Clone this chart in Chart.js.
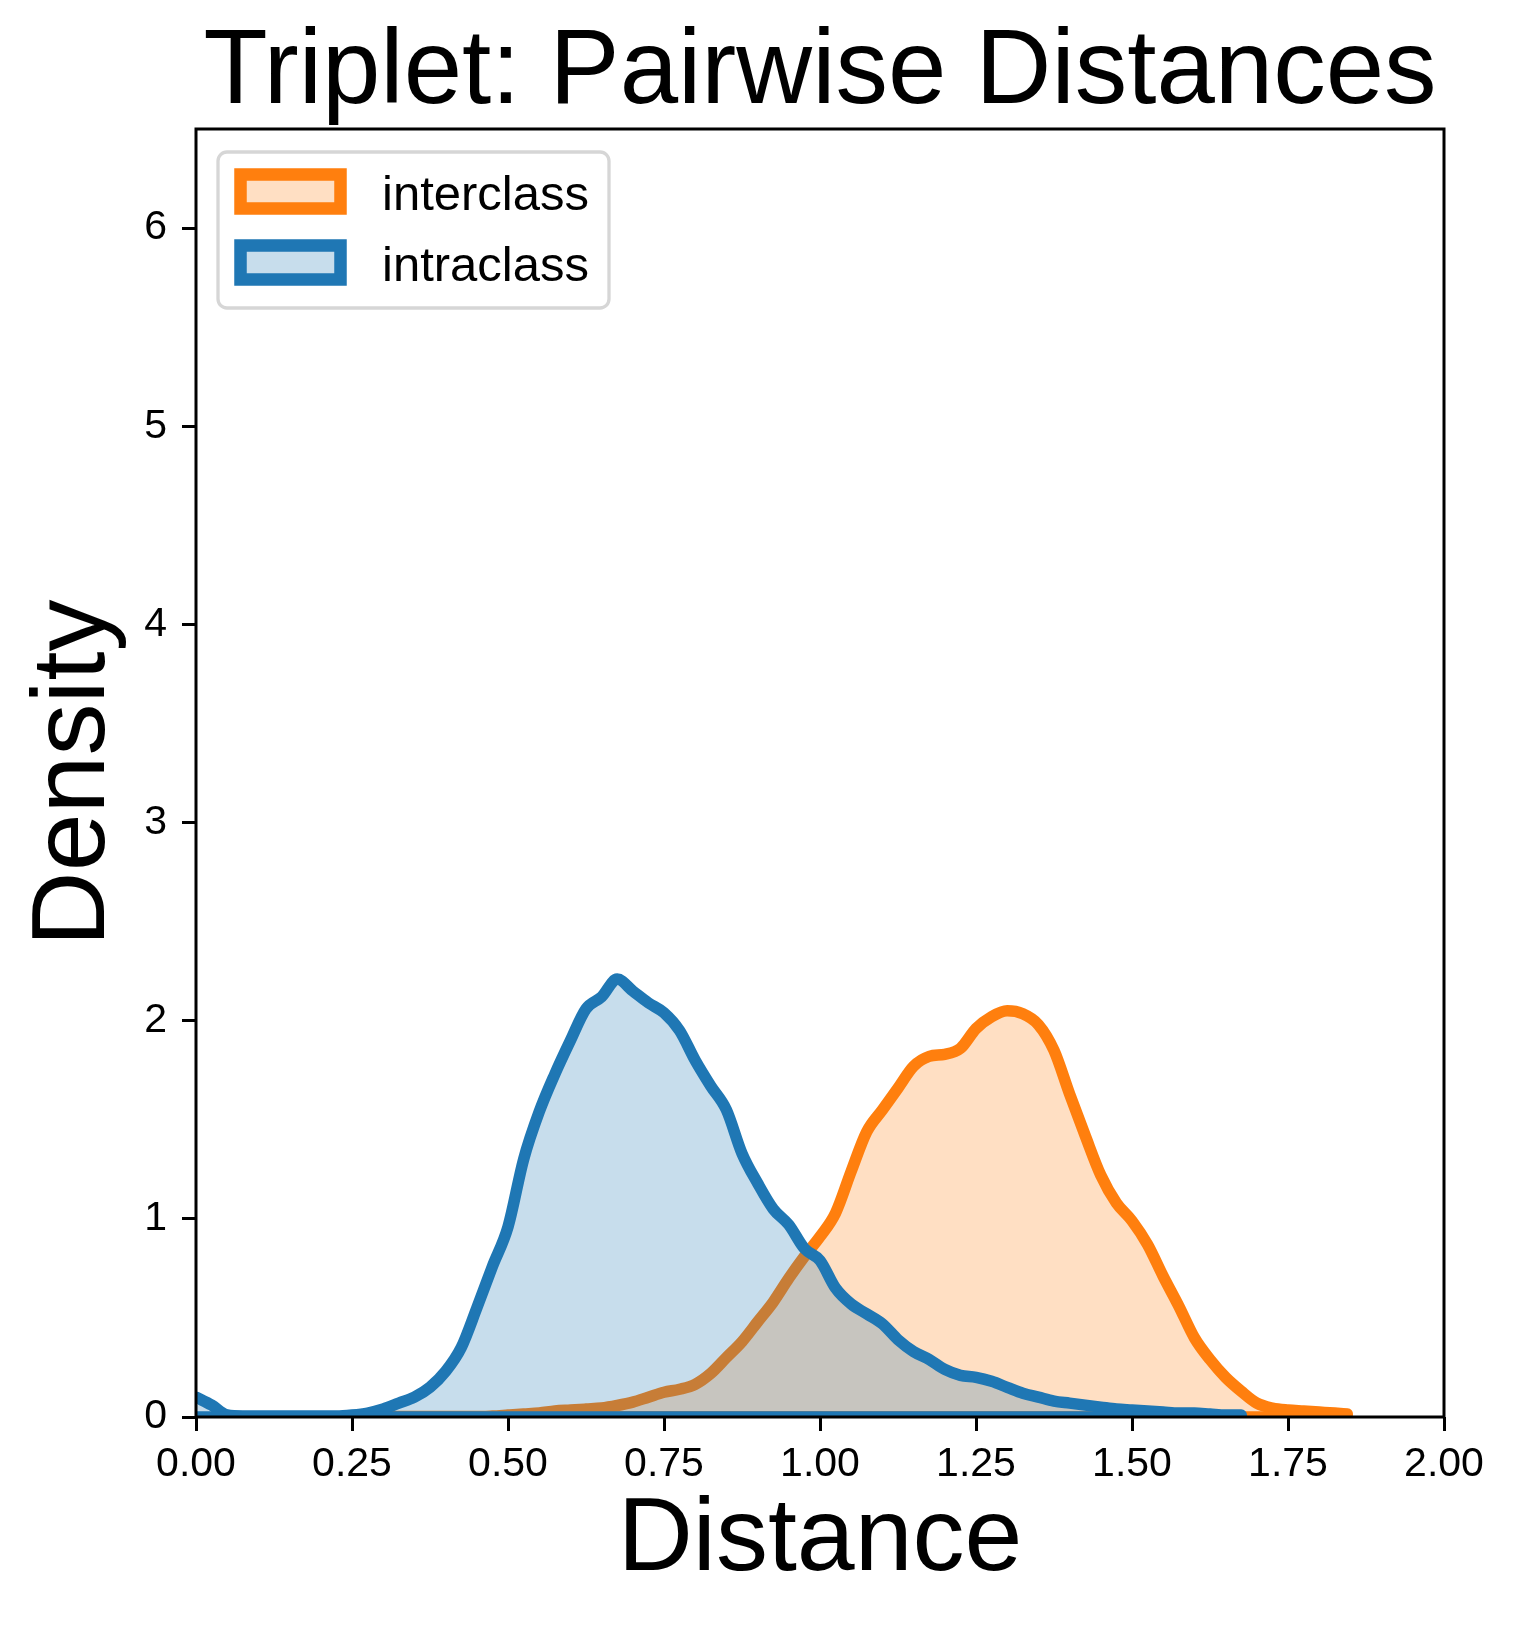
<!DOCTYPE html>
<html>
<head>
<meta charset="utf-8">
<title>Triplet: Pairwise Distances</title>
<script src="https://cdn.jsdelivr.net/npm/chart.js@4.4.1/dist/chart.umd.min.js"></script>
<style>
  html, body { margin: 0; padding: 0; background: #fff; }
  #wrap { width: 1517px; height: 1626px; }
</style>
</head>
<body>
<div id="wrap"><canvas id="myChart" width="1517" height="1626"></canvas></div>
<script>
// distance grid (x) shared by both density curves
const distances = [
  0.000, 0.025, 0.050, 0.075, 0.100, 0.125, 0.150, 0.175, 0.200, 0.225,
  0.250, 0.275, 0.300, 0.325, 0.350, 0.375, 0.400, 0.425, 0.450, 0.475,
  0.500, 0.525, 0.550, 0.575, 0.600, 0.625, 0.650, 0.675, 0.700, 0.725,
  0.750, 0.775, 0.800, 0.825, 0.850, 0.875, 0.900, 0.925, 0.950, 0.975,
  1.000, 1.025, 1.050, 1.075, 1.100, 1.125, 1.150, 1.175, 1.200, 1.225,
  1.250, 1.275, 1.300, 1.325, 1.350, 1.375, 1.400, 1.425, 1.450, 1.475,
  1.500, 1.525, 1.550, 1.575, 1.600, 1.625, 1.650, 1.675, 1.700, 1.725,
  1.750, 1.775, 1.800, 1.825, 1.845
];

// intraclass density (blue), null = no curve there
const intraclass = [
  0.10, 0.06, 0.01, 0.005, 0.005, 0.005, 0.005, 0.005, 0.005, 0.005,
  0.01, 0.02, 0.04, 0.07, 0.10, 0.15, 0.23, 0.35, 0.55, 0.76,
  0.96, 1.30, 1.54, 1.73, 1.90, 2.06, 2.12, 2.21, 2.15, 2.09,
  2.04, 1.95, 1.80, 1.67, 1.55, 1.33, 1.18, 1.05, 0.97, 0.85,
  0.79, 0.65, 0.57, 0.52, 0.47, 0.39, 0.33, 0.29, 0.24, 0.21,
  0.20, 0.18, 0.15, 0.12, 0.10, 0.08, 0.07, 0.06, 0.05, 0.04,
  0.035, 0.03, 0.025, 0.02, 0.02, 0.015, 0.01, 0.01, null, null,
  null, null, null, null, null
];

// interclass density (orange)
const interclass = [
  null, null, null, null, null, null, null, null, null, null,
  null, null, 0.0, 0.002, 0.002, 0.002, 0.002, 0.002, 0.002, 0.005,
  0.01, 0.015, 0.02, 0.03, 0.035, 0.04, 0.045, 0.058, 0.075, 0.10,
  0.125, 0.14, 0.165, 0.22, 0.30, 0.38, 0.48, 0.58, 0.70, 0.81,
  0.91, 1.03, 1.24, 1.44, 1.55, 1.66, 1.77, 1.82, 1.83, 1.86,
  1.96, 2.02, 2.05, 2.035, 1.98, 1.85, 1.63, 1.42, 1.22, 1.08,
  0.99, 0.87, 0.71, 0.56, 0.40, 0.29, 0.20, 0.13, 0.07, 0.045,
  0.035, 0.03, 0.025, 0.02, 0.015
];

const xTickValues = [0, 0.25, 0.5, 0.75, 1.0, 1.25, 1.5, 1.75, 2.0];
const yTickValues = [0, 1, 2, 3, 4, 5, 6];

const FONT = "'Liberation Sans', Arial, Helvetica, sans-serif";
const BLUE = '#1f77b4', BLUE_FILL = 'rgba(31,119,180,0.25)';
const ORANGE = '#ff7f0e', ORANGE_FILL = 'rgba(255,127,14,0.25)';

function toPoints(values) {
  return distances.map((x, i) => ({ x: x, y: values[i] }));
}

// the filled kde polygon is also outlined along y = 0
function baselineOf(values) {
  const idx = values.map((v, i) => (v === null ? -1 : i)).filter(i => i >= 0);
  return [{ x: distances[idx[0]], y: 0 }, { x: distances[idx[idx.length - 1]], y: 0 }];
}

function curve(label, values, color, fillColor, order) {
  return {
    label: label,
    data: toPoints(values),
    borderColor: color,
    backgroundColor: fillColor,
    borderWidth: 11.5,
    fill: 'origin',
    pointRadius: 0,
    cubicInterpolationMode: 'monotone',
    borderJoinStyle: 'round',
    borderCapStyle: 'round',
    clip: 0,
    order: order
  };
}

function baseline(values, color, order) {
  return {
    data: baselineOf(values),
    borderColor: color,
    borderWidth: 11.5,
    fill: false,
    pointRadius: 0,
    borderCapStyle: 'round',
    clip: 0,
    order: order
  };
}

// center the title over the plot area, like matplotlib
const titleOverPlot = {
  id: 'titleOverPlot',
  afterLayout(chart) {
    const t = chart.titleBlock;
    if (t) {
      t.left = chart.chartArea.left;
      t.right = chart.chartArea.right;
      t.width = t.right - t.left;
    }
  }
};

// black box around the axes
const framePlugin = {
  id: 'frame',
  afterDatasetsDraw(chart) {
    const { ctx, chartArea: a } = chart;
    ctx.save();
    ctx.strokeStyle = '#000';
    ctx.lineWidth = 3;
    ctx.strokeRect(a.left, a.top, a.right - a.left, a.bottom - a.top);
    ctx.restore();
  }
};

// legend drawn inside the plot, upper left
const insideLegend = {
  id: 'insideLegend',
  afterDraw(chart) {
    const { ctx, chartArea: a } = chart;
    const x0 = a.left + 22, y0 = a.top + 23;
    ctx.save();
    ctx.beginPath();
    ctx.roundRect(x0, y0, 391, 156, 9);
    ctx.fillStyle = 'rgba(255,255,255,0.8)';
    ctx.fill();
    ctx.lineWidth = 3.3;
    ctx.strokeStyle = '#d6d6d6';
    ctx.stroke();

    const sets = chart.data.datasets.filter(ds => ds.label).reverse();
    sets.forEach((ds, i) => {
      const ry = y0 + 22.5 + i * 71;
      ctx.fillStyle = ds.backgroundColor;
      ctx.fillRect(x0 + 22.5, ry, 100, 34);
      ctx.lineWidth = 12.5;
      ctx.strokeStyle = ds.borderColor;
      ctx.strokeRect(x0 + 22.5, ry, 100, 34);
      ctx.fillStyle = '#000';
      ctx.font = '49px ' + FONT;
      ctx.textBaseline = 'alphabetic';
      ctx.textAlign = 'left';
      ctx.fillText(ds.label, x0 + 164, y0 + 57.5 + i * 71);
    });
    ctx.restore();
  }
};

const ctx = document.getElementById('myChart').getContext('2d');
new Chart(ctx, {
  type: 'line',
  data: {
    datasets: [
      baseline(intraclass, BLUE, 0),
      curve('intraclass', intraclass, BLUE, BLUE_FILL, 1),
      baseline(interclass, ORANGE, 2),
      curve('interclass', interclass, ORANGE, ORANGE_FILL, 3)
    ]
  },
  options: {
    responsive: false,
    animation: false,
    devicePixelRatio: 1,
    layout: { padding: { left: 0, right: 73, top: 0, bottom: 0 } },
    plugins: {
      legend: { display: false },
      tooltip: { enabled: false },
      title: {
        display: true,
        text: 'Triplet: Pairwise Distances',
        color: '#000',
        font: { family: FONT, size: 105, weight: 'normal', lineHeight: 1 },
        padding: { top: 22, bottom: 2 }
      }
    },
    scales: {
      x: {
        type: 'linear',
        min: 0,
        max: 2,
        afterBuildTicks: s => { s.ticks = xTickValues.map(v => ({ value: v })); },
        afterFit: s => { s.height = 209; },
        border: { display: false },
        grid: { drawOnChartArea: false, drawTicks: true, tickLength: 14, tickWidth: 3, tickColor: '#000' },
        ticks: {
          color: '#000',
          font: { family: FONT, size: 41 },
          padding: 9,
          maxRotation: 0,
          autoSkip: false,
          callback: v => Number(v).toFixed(2)
        },
        title: {
          display: true,
          text: 'Distance',
          color: '#000',
          font: { family: FONT, size: 104, lineHeight: 1 },
          padding: { top: 0, bottom: 33 }
        }
      },
      y: {
        min: 0,
        max: 6.5,
        afterBuildTicks: s => { s.ticks = yTickValues.map(v => ({ value: v })); },
        afterFit: s => { s.width = 196; },
        border: { display: false },
        grid: { drawOnChartArea: false, drawTicks: true, tickLength: 14, tickWidth: 3, tickColor: '#000' },
        ticks: {
          color: '#000',
          font: { family: FONT, size: 41 },
          padding: 15,
          callback: v => String(v)
        },
        title: {
          display: true,
          text: 'Density',
          color: '#000',
          font: { family: FONT, size: 104, lineHeight: 1 },
          padding: { top: 23.5, bottom: 0 }
        }
      }
    }
  },
  plugins: [titleOverPlot, framePlugin, insideLegend]
});
</script>
</body>
</html>
